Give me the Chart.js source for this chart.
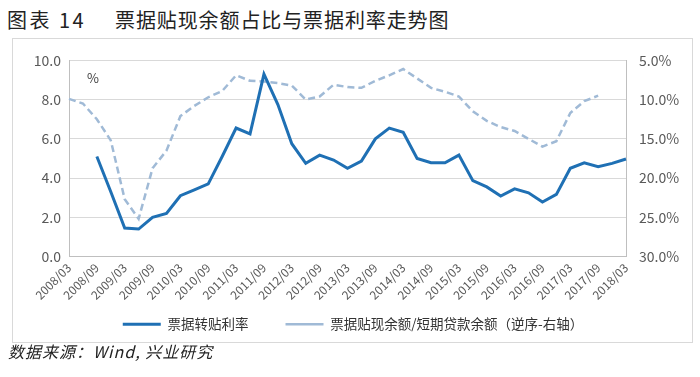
<!DOCTYPE html>
<html>
<head>
<meta charset="utf-8">
<script src="https://cdn.jsdelivr.net/npm/chart.js@4.4.1/dist/chart.umd.min.js"></script>
<style>
  body { margin: 0; background: #fff; width: 700px; height: 377px; position: relative; overflow: hidden;
         font-family: "Noto Sans CJK SC", sans-serif; }
  .title { position: absolute; top: 5px; font-size: 20px; color: #222; white-space: nowrap; }
  #t1 { left: 7px; letter-spacing: 2.5px; }
  #t2 { left: 115px; letter-spacing: 0.9px; }
  #box { position: absolute; left: 12px; top: 38px; width: 679px; height: 303px; border: 1px solid #d9d9d9; }
  #box canvas { position: absolute; left: 0; top: 0; }
  #source { position: absolute; left: 8px; top: 339px; font-size: 16px; font-style: italic; color: #222;
            white-space: nowrap; letter-spacing: 1px; }
</style>
</head>
<body>
<div class="title" id="t1">图表 14</div>
<div class="title" id="t2">票据贴现余额占比与票据利率走势图</div>
<div id="box"><canvas id="myChart" width="680" height="326"></canvas></div>
<div id="source">数据来源：Wind, 兴业研究</div>
<script>
// quarterly, 2008/03 .. 2018/03
var quarters = [
  '2008/03','2008/06','2008/09','2008/12','2009/03','2009/06','2009/09','2009/12',
  '2010/03','2010/06','2010/09','2010/12','2011/03','2011/06','2011/09','2011/12',
  '2012/03','2012/06','2012/09','2012/12','2013/03','2013/06','2013/09','2013/12',
  '2014/03','2014/06','2014/09','2014/12','2015/03','2015/06','2015/09','2015/12',
  '2016/03','2016/06','2016/09','2016/12','2017/03','2017/06','2017/09','2017/12','2018/03'
];
// 票据转贴利率 (%, left axis)
var rediscountRate = [
  null, null, 5.1, 3.3, 1.45, 1.4, 2.0, 2.2,
  3.1, 3.4, 3.7, 5.1, 6.55, 6.25, 9.3, 7.75,
  5.75, 4.75, 5.17, 4.92, 4.5, 4.87, 6.0, 6.55,
  6.33, 5.0, 4.78, 4.78, 5.17, 3.87, 3.55, 3.08,
  3.45, 3.25, 2.78, 3.17, 4.5, 4.78, 4.58, 4.75, 4.97
];
// 票据贴现余额/短期贷款余额 (%, right axis, reversed)
var discountShare = [
  9.9, 10.5, 12.5, 15.2, 22.7, 25.2, 18.75, 16.5,
  12.1, 10.8, 9.7, 8.9, 6.9, 7.6, 7.7, 7.9,
  8.2, 10.0, 9.6, 8.1, 8.4, 8.5, 7.6, 6.9,
  6.1, 7.3, 8.5, 9.0, 9.6, 11.5, 12.7, 13.5,
  14.0, 15.0, 16.0, 15.3, 11.7, 10.2, 9.5, null, null
];
var leftTicks = [0, 2, 4, 6, 8, 10];
var rightTicks = [5, 10, 15, 20, 25, 30];

var cjk = '"Noto Sans CJK SC", sans-serif';
var tickColor = '#595959';

// "%" unit mark in the plot corner
var percentMark = {
  id: 'percentMark',
  afterDraw: function(c) {
    var ctx = c.ctx;
    ctx.save();
    ctx.font = '13px ' + cjk;
    ctx.fillStyle = '#404040';
    ctx.textBaseline = 'middle';
    ctx.fillText('%', c.chartArea.left + 18, c.chartArea.top + 18);
    ctx.restore();
  }
};

// pull the legend up closer to the tick labels
var legendLift = {
  id: 'legendLift',
  afterLayout: function(c) {
    if (c.legend) {
      c.legend.top -= 24;
      c.legend.bottom -= 24;
    }
  }
};

var ctx = document.getElementById('myChart').getContext('2d');
var chart = new Chart(ctx, {
  type: 'line',
  data: {
    labels: quarters,
    datasets: [
      {
        label: '票据转贴利率',
        data: rediscountRate,
        yAxisID: 'y',
        borderColor: 'rgb(31, 112, 180)',
        backgroundColor: 'rgb(31, 112, 180)',
        borderWidth: 3,
        pointRadius: 0,
        tension: 0,
      },
      {
        label: '票据贴现余额/短期贷款余额（逆序-右轴）',
        data: discountShare,
        yAxisID: 'y1',
        borderColor: 'rgb(160, 186, 214)',
        backgroundColor: 'rgb(160, 186, 214)',
        borderWidth: 2.5,
        borderDash: [7, 4],
        pointRadius: 0,
        tension: 0,
      },
    ],
  },
  options: {
    responsive: false,
    animation: false,
    layout: { padding: { top: 17, left: 0, right: 0, bottom: 0 } },
    plugins: {
      title: { display: false },
      tooltip: { enabled: false },
      legend: {
        position: 'bottom',
        labels: {
          usePointStyle: true,
          pointStyle: 'line',
          pointStyleWidth: 38,
          boxWidth: 38,
          boxHeight: 8,
          padding: 37,
          color: '#333',
          font: { family: cjk, size: 13.5 },
        },
      },
    },
    scales: {
      x: {
        offset: false,
        grid: { display: false, drawTicks: false },
        border: { display: true, color: '#bfbfbf' },
        ticks: {
          autoSkip: false,
          maxRotation: 45,
          minRotation: 45,
          padding: 4,
          color: tickColor,
          font: { family: cjk, size: 12 },
          callback: function(v, i) {
            var l = quarters[i];
            return (l.slice(5) === '03' || l.slice(5) === '09') ? l : '';
          },
        },
        afterFit: function(s) { s.height = 48; },
      },
      y: {
        position: 'left',
        min: 0,
        max: 10,
        afterBuildTicks: function(s) { s.ticks = leftTicks.map(function(v) { return { value: v }; }); },
        grid: { color: '#d9d9d9', drawTicks: false },
        border: { display: true, color: '#bfbfbf' },
        ticks: {
          padding: 8,
          color: tickColor,
          font: { family: cjk, size: 14 },
          callback: function(v) { return v.toFixed(1); },
        },
        afterFit: function(s) { s.width = 56; },
      },
      y1: {
        position: 'right',
        min: 5,
        max: 30,
        reverse: true,
        afterBuildTicks: function(s) { s.ticks = rightTicks.map(function(v) { return { value: v }; }); },
        grid: { display: false, drawTicks: false },
        border: { display: true, color: '#bfbfbf' },
        ticks: {
          padding: 13,
          color: tickColor,
          font: { family: cjk, size: 14 },
          callback: function(v) { return v.toFixed(1) + '%'; },
        },
        afterFit: function(s) { s.width = 67; },
      },
    },
  },
  plugins: [percentMark, legendLift],
});
</script>
</body>
</html>
